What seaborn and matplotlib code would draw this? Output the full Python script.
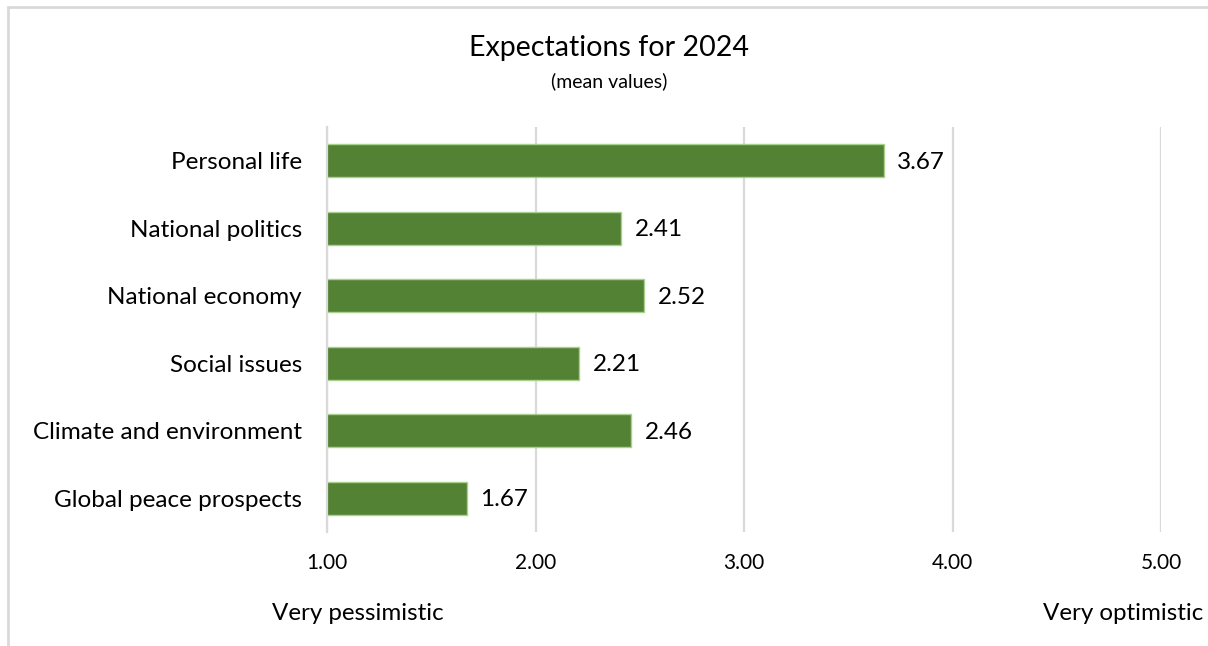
import matplotlib
matplotlib.use("Agg")
import matplotlib.pyplot as plt
import seaborn as sns
import pandas as pd
from matplotlib.patches import Rectangle

categories = ["Personal life", "National politics", "National economy",
              "Social issues", "Climate and environment", "Global peace prospects"]
values = [3.67, 2.41, 2.52, 2.21, 2.46, 1.67]
xticks = [1.0, 2.0, 3.0, 4.0, 5.0]
xtick_labels = ["1.00", "2.00", "3.00", "4.00", "5.00"]

sns.set_theme(style="white")
plt.rcParams["font.family"] = ["Lato", "DejaVu Sans"]

df = pd.DataFrame({"category": categories, "value": values})

W, H = 1208, 646
fig = plt.figure(figsize=(W / 100, H / 100), dpi=100)
ax = fig.add_axes([327 / W, 1 - 532 / H, (1161 - 327) / W, (532 - 127) / H])

sns.barplot(data=df, y="category", x="value", orient="h", color="#548235",
            saturation=1, width=0.49, edgecolor="#a9d18e", linewidth=1, ax=ax, zorder=3)

ax.set_xlim(1, 5)
ax.set_ylim(5.5, -0.5)
ax.set_xticks(xticks)
ax.set_xticklabels(xtick_labels, fontsize=15, color="#000000")
ax.tick_params(axis="x", length=0, pad=15)
ax.set_xlabel("")
ax.set_ylabel("")
ax.grid(axis="x", color="#d9d9d9", linewidth=1.6, zorder=0)
ax.grid(axis="y", visible=False)
for s in ["top", "right", "bottom"]:
    ax.spines[s].set_visible(False)
ax.spines["left"].set_color("#d9d9d9")
ax.spines["left"].set_linewidth(1.6)
ax.spines["left"].set_zorder(4)

ax.set_yticks(range(len(categories)))
ax.set_yticklabels(categories, fontsize=17.5, color="#000000")
ax.tick_params(axis="y", which="major", length=0, pad=18)
ax.set_yticks([i - 0.5 for i in range(len(categories) + 1)], minor=True)
ax.tick_params(axis="y", which="minor", length=6, width=1.6, color="#d9d9d9")

for i, v in enumerate(values):
    ax.text(v + 0.065, i + 0.02, f"{v:.2f}", va="center", ha="left", fontsize=17.5,
            color="#000000", zorder=5,
            bbox=dict(boxstyle="square,pad=0.2", facecolor="white", edgecolor="none"))

fig.text(609 / W, 1 - 48 / H, "Expectations for 2024", ha="center", va="center",
         fontsize=20.6, color="#000000")
fig.text(609 / W, 1 - 81 / H, "(mean values)", ha="center", va="center",
         fontsize=14, color="#000000")
fig.text(358 / W, 1 - 614 / H, "Very pessimistic", ha="center", va="center",
         fontsize=17.4, color="#000000")
fig.text(1203 / W, 1 - 614 / H, "Very optimistic", ha="right", va="center",
         fontsize=17.4, color="#000000")

fig.patches.append(Rectangle((8 / W, -0.1), 1.2, 1.1 - 7 / H, transform=fig.transFigure,
                             fill=False, edgecolor="#d9d9d9", linewidth=2))

fig.savefig("out.png", dpi=100)
